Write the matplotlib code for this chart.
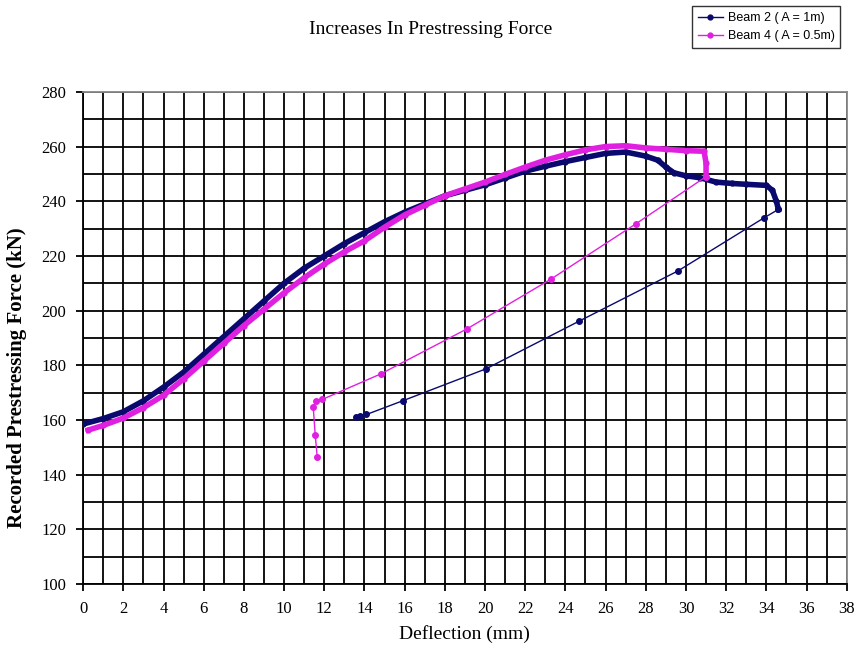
import numpy as np
import matplotlib.pyplot as plt
from matplotlib.ticker import MultipleLocator

# Loading branch, Beam 2 (A = 1m)
beam2_load_x = [0, 1, 2, 3, 4, 5, 6, 7, 8, 9, 10, 11, 12, 13, 14, 15, 16, 17, 18, 19,
                20, 21, 22, 23, 24, 25, 26, 27, 28, 28.6, 29, 29.4, 30, 30.7, 31.5,
                32.3, 33, 34, 34.3, 34.5, 34.6]
beam2_load_y = [158.5, 160.5, 163, 167, 172, 177.5, 184, 190.5, 197, 203.5, 210, 215.5,
                220, 224.5, 228.5, 232.5, 236, 239, 242, 244, 246, 248.5, 251, 252.8,
                254.5, 256, 257.5, 258, 256.5, 255, 252.5, 250.4, 249.3, 248.6, 247, 246.5,
                246.2, 245.8, 244, 240, 237]
# Unloading branch, Beam 2
beam2_unload_x = [34.6, 33.9, 29.6, 24.7, 20.05, 15.9, 14.1, 13.8, 13.6]
beam2_unload_y = [237, 234, 214.5, 196.2, 178.7, 167, 162, 161.5, 161.2]

# Loading branch, Beam 4 (A = 0.5m)
beam4_load_x = [0.25, 1, 2, 3, 4, 5, 6, 7, 8, 9, 10, 11, 12, 13, 14, 15, 16, 17, 18, 19,
                20, 21, 22, 23, 24, 25, 26, 27, 28, 29, 30, 30.9, 31, 31]
beam4_load_y = [156.3, 158, 160.7, 164.5, 169, 175, 181.5, 188, 194.5, 200.5, 206.5, 212,
                217, 221.5, 225.5, 230.5, 235, 238.5, 242, 244.5, 247, 249.8, 252.5, 255,
                257, 258.8, 260, 260.3, 259.5, 259, 258.5, 258.3, 254, 249]
# Unloading branch, Beam 4
beam4_unload_x = [31, 27.5, 23.3, 19.1, 14.8, 11.9, 11.6, 11.45, 11.55, 11.65]
beam4_unload_y = [249, 231.7, 211.6, 193.3, 176.8, 167.5, 167, 164.8, 154.5, 146.5]

navy = "#0a0a6e"
magenta = "#e020e0"
serif = "Liberation Serif"

fig = plt.figure(figsize=(8.57, 6.61), dpi=100)
ax = fig.add_axes([0.097, 0.1165, 0.891, 0.7445])

# thick loading curves (dense recorded points)
ax.plot(beam2_load_x, beam2_load_y, color=navy, lw=4, marker="o", ms=3.5, zorder=4)
ax.plot(beam4_load_x, beam4_load_y, color=magenta, lw=4, marker="o", ms=3.5, zorder=5)
# thin unloading curves
ax.plot(beam2_unload_x, beam2_unload_y, color=navy, lw=1, marker="o", ms=4, zorder=4)
ax.plot(beam4_unload_x, beam4_unload_y, color=magenta, lw=1, marker="o", ms=4, zorder=5)

ax.set_xlim(0, 38)
ax.set_ylim(100, 280)
ax.xaxis.set_major_locator(MultipleLocator(2))
ax.xaxis.set_minor_locator(MultipleLocator(1))
ax.yaxis.set_major_locator(MultipleLocator(20))
ax.yaxis.set_minor_locator(MultipleLocator(10))
ax.grid(True, which="both", color="black", lw=1.3)
ax.set_axisbelow(True)
ax.tick_params(which="major", length=5, width=1.3, direction="out", labelsize=12, pad=7)
ax.tick_params(which="minor", length=0)
for lab in ax.get_xticklabels() + ax.get_yticklabels():
    lab.set_fontfamily(serif)
for s in ax.spines.values():
    s.set_linewidth(1.3)
ax.spines["top"].set_color("#888888")
ax.spines["right"].set_color("#888888")

ax.set_xlabel("Deflection (mm)", fontfamily=serif, fontsize=14, labelpad=6)
ax.set_ylabel("Recorded Prestressing Force (kN)", fontfamily=serif, fontsize=15,
              fontweight="bold")
ax.yaxis.set_label_coords(-0.074, 0.42)
fig.text(0.502, 0.956, "Increases In Prestressing Force", ha="center", va="center",
         fontfamily=serif, fontsize=14)

# legend entries
h2, = ax.plot([], [], color=navy, lw=1, marker="o", ms=3.5, label="Beam 2 ( A = 1m)")
h4, = ax.plot([], [], color=magenta, lw=1, marker="o", ms=3.5, label="Beam 4 ( A = 0.5m)")
leg = fig.legend(handles=[h2, h4], loc="upper right", bbox_to_anchor=(0.988, 1.0),
                 prop={"family": "Liberation Sans", "size": 9}, frameon=True,
                 fancybox=False, edgecolor="black", handlelength=2, borderpad=0.45,
                 labelspacing=0.5, handletextpad=0.4)
leg.get_frame().set_linewidth(1)

fig.savefig("out.png", dpi=100)
